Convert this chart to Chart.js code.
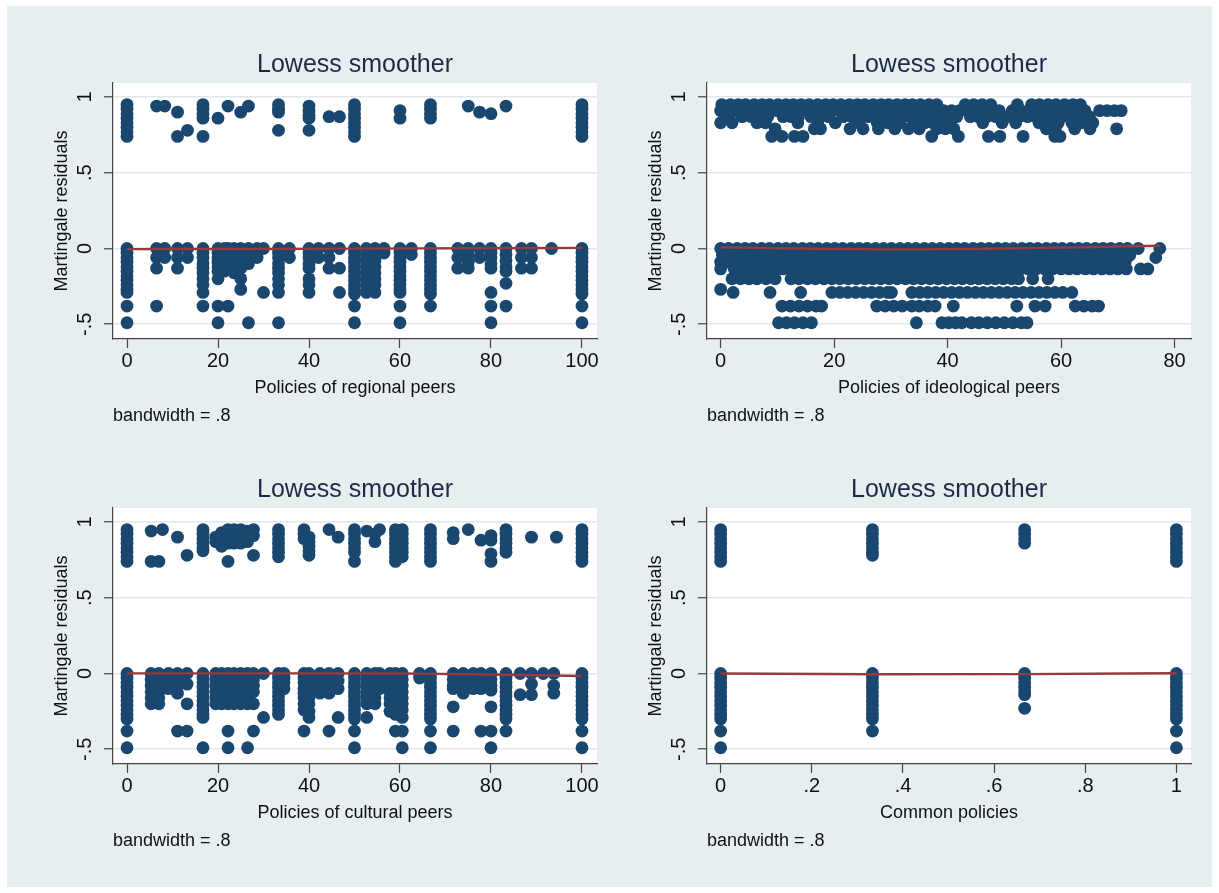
<!DOCTYPE html>
<html>
  <head>
    <title>Lowess smoother</title>
    <script src="https://cdn.jsdelivr.net/npm/chart.js"></script>
    <style>
      body { margin: 0; background: #ffffff; }
      #fundo { position: absolute; left: 7px; top: 6px; width: 1205px; height: 881px; background: #e7eef0; }
      canvas { position: absolute; }
    </style>
  </head>

  <body>
    <div id="fundo"></div>
    <canvas id="c1" width="596" height="436" style="left: 13px; top: 3px"></canvas>
    <canvas id="c2" width="596" height="436" style="left: 607px; top: 3px"></canvas>
    <canvas id="c3" width="596" height="436" style="left: 13px; top: 428px"></canvas>
    <canvas id="c4" width="596" height="436" style="left: 607px; top: 428px"></canvas>
  </body>
</html>

<script>
  // eixos
  const yTicks = [-0.5, 0, 0.5, 1];
  const yTickLabels = ["-.5", "0", ".5", "1"];
  const pctTicks = [0, 20, 40, 60, 80, 100];
  const pctTickLabels = ["0", "20", "40", "60", "80", "100"];
  const ideoTicks = [0, 20, 40, 60, 80];
  const ideoTickLabels = ["0", "20", "40", "60", "80"];
  const commonTicks = [0, 0.2, 0.4, 0.6, 0.8, 1];
  const commonTickLabels = ["0", ".2", ".4", ".6", ".8", "1"];

  // residuos por coluna: [x, [y...]]
  const regionalCols = [
    [0, [0.95, 0.92, 0.89, 0.86, 0.83, 0.8, 0.77, 0.74, 0, -0.03, -0.06, -0.09, -0.12, -0.15, -0.18, -0.21, -0.24, -0.27, -0.29, -0.38, -0.49]],
    [6.5, [0.94, 0, -0.06, -0.13, -0.38]],
    [8.3, [0.94, 0, -0.06]],
    [11.1, [0.9, 0.74, 0, -0.06, -0.13]],
    [13.3, [0.78, 0, -0.06]],
    [16.7, [0.95, 0.92, 0.89, 0.86, 0.74, 0, -0.03, -0.06, -0.1, -0.13, -0.16, -0.2, -0.24, -0.29, -0.38]],
    [20, [0.86, 0, -0.03, -0.06, -0.09, -0.12, -0.15, -0.2, -0.38, -0.49]],
    [21.4, [0, -0.04, -0.08, -0.12, -0.15]],
    [22.2, [0.94, 0, -0.06, -0.1, -0.13, -0.38]],
    [23.5, [0, -0.03, -0.07, -0.1, -0.13, -0.16]],
    [25, [0.9, 0, -0.05, -0.09, -0.13, -0.2, -0.27]],
    [26.7, [0.94, 0, -0.03, -0.07, -0.1, -0.49]],
    [28.6, [0, -0.06]],
    [30, [0, -0.29]],
    [33.3, [0.95, 0.92, 0.9, 0.78, 0, -0.03, -0.06, -0.1, -0.13, -0.16, -0.2, -0.24, -0.29, -0.49]],
    [35.7, [0, -0.06]],
    [40, [0.94, 0.91, 0.88, 0.86, 0.78, 0, -0.03, -0.06, -0.1, -0.13, -0.2, -0.24, -0.29]],
    [42.1, [0, -0.06]],
    [44.4, [0.87, 0, -0.06, -0.13]],
    [46.7, [0.87, 0, -0.13, -0.29]],
    [50, [0.95, 0.92, 0.89, 0.86, 0.83, 0.8, 0.77, 0.74, 0, -0.03, -0.06, -0.09, -0.12, -0.15, -0.18, -0.21, -0.24, -0.27, -0.3, -0.38, -0.49]],
    [52.6, [0, -0.04, -0.08, -0.12, -0.16, -0.2, -0.24, -0.29]],
    [54.5, [0, -0.04, -0.08, -0.12, -0.16, -0.2, -0.24, -0.29]],
    [56.5, [0, -0.03]],
    [60, [0.91, 0.86, 0, -0.03, -0.06, -0.09, -0.12, -0.15, -0.18, -0.21, -0.24, -0.27, -0.29, -0.38, -0.49]],
    [62.5, [0, -0.04]],
    [66.7, [0.95, 0.92, 0.89, 0.86, 0, -0.03, -0.06, -0.09, -0.12, -0.15, -0.18, -0.21, -0.24, -0.27, -0.3, -0.38]],
    [72.7, [0, -0.06, -0.13]],
    [75, [0.94, 0, -0.04, -0.09, -0.13]],
    [77.5, [0.9, 0, -0.06]],
    [80, [0.89, 0, -0.03, -0.06, -0.1, -0.13, -0.29, -0.38, -0.49]],
    [83.3, [0.94, 0, -0.04, -0.08, -0.12, -0.15, -0.23, -0.38]],
    [86.7, [0, -0.06, -0.13]],
    [88.9, [0, -0.06, -0.13]],
    [93.3, [0]],
    [100, [0.95, 0.92, 0.89, 0.86, 0.83, 0.8, 0.77, 0.74, 0, -0.03, -0.06, -0.09, -0.12, -0.15, -0.18, -0.21, -0.24, -0.27, -0.3, -0.38, -0.49]],
  ];

  const culturalCols = [
    [0, [0.95, 0.92, 0.89, 0.86, 0.83, 0.8, 0.77, 0.74, 0, -0.03, -0.06, -0.09, -0.12, -0.15, -0.18, -0.21, -0.24, -0.27, -0.3, -0.38, -0.49]],
    [5.3, [0.94, 0.74, 0, -0.04, -0.08, -0.12, -0.16, -0.2]],
    [7, [0.74, 0, -0.04, -0.08, -0.12, -0.16, -0.2]],
    [7.8, [0.95]],
    [9.1, [0, -0.05, -0.1]],
    [11.1, [0.9, 0, -0.04, -0.08, -0.13, -0.38]],
    [13.2, [0.78, 0, -0.07, -0.2, -0.38]],
    [16.7, [0.95, 0.92, 0.89, 0.86, 0.83, 0.81, 0, -0.03, -0.06, -0.09, -0.12, -0.15, -0.18, -0.21, -0.24, -0.27, -0.29, -0.49]],
    [19.5, [0.9, 0.87, 0, -0.04, -0.08, -0.12, -0.16, -0.2]],
    [20.8, [0.93, 0.9, 0.87, 0.84, 0, -0.04, -0.08, -0.12, -0.16, -0.2]],
    [22.2, [0.95, 0.92, 0.89, 0.86, 0.74, 0, -0.04, -0.08, -0.12, -0.16, -0.2, -0.38, -0.49]],
    [23.5, [0.95, 0.92, 0.89, 0.86, 0, -0.04, -0.08, -0.12, -0.16, -0.2]],
    [25, [0.95, 0.92, 0.89, 0.86, 0, -0.04, -0.08, -0.12, -0.16, -0.2]],
    [26.5, [0.94, 0.9, 0.87, 0, -0.04, -0.08, -0.12, -0.16, -0.2, -0.49]],
    [27.8, [0.95, 0.91, 0.78, 0, -0.04, -0.08, -0.12, -0.2, -0.38]],
    [30, [0, -0.29]],
    [33.3, [0.95, 0.92, 0.89, 0.86, 0.83, 0.8, 0.77, 0, -0.03, -0.06, -0.09, -0.12, -0.15, -0.18, -0.21, -0.24, -0.27]],
    [34.5, [0, -0.03, -0.06, -0.1]],
    [38.9, [0.95, 0.92, 0.89, 0, -0.03, -0.06, -0.1, -0.13, -0.16, -0.2, -0.24, -0.38]],
    [40, [0.9, 0.87, 0.84, 0.81, 0.78, 0, -0.04, -0.08, -0.12, -0.16, -0.2, -0.25, -0.29]],
    [42.4, [0, -0.04, -0.08, -0.13]],
    [44.4, [0.95, 0, -0.04, -0.08, -0.13, -0.38]],
    [46.4, [0.9, 0, -0.05, -0.1, -0.29]],
    [50, [0.95, 0.92, 0.89, 0.86, 0.83, 0.8, 0.74, 0, -0.03, -0.06, -0.09, -0.12, -0.15, -0.18, -0.21, -0.24, -0.27, -0.3, -0.38, -0.49]],
    [52.7, [0.94, 0, -0.04, -0.08, -0.12, -0.16, -0.2, -0.29]],
    [54.5, [0.92, 0.87, 0, -0.04, -0.08, -0.12, -0.16, -0.2]],
    [55.5, [0.95, 0, -0.05, -0.1]],
    [57.8, [0, -0.04, -0.08, -0.12, -0.16, -0.2, -0.25]],
    [59, [0.95, 0.92, 0.89, 0.86, 0.83, 0.8, 0.77, 0.74, 0, -0.03, -0.06, -0.09, -0.12, -0.15, -0.18, -0.21, -0.24, -0.27, -0.38]],
    [60.5, [0.95, 0.92, 0.89, 0.86, 0.83, 0.8, 0.77, 0, -0.04, -0.08, -0.12, -0.16, -0.2, -0.24, -0.29, -0.38, -0.49]],
    [64.3, [0, -0.03]],
    [66.7, [0.95, 0.92, 0.89, 0.86, 0.83, 0.8, 0.77, 0.74, 0, -0.03, -0.06, -0.09, -0.12, -0.15, -0.18, -0.21, -0.24, -0.27, -0.3, -0.38, -0.49]],
    [71.7, [0.93, 0.89, 0, -0.04, -0.08, -0.1, -0.22, -0.38]],
    [73.9, [0, -0.04, -0.08, -0.13]],
    [75, [0.95]],
    [76.1, [0, -0.04, -0.08, -0.1]],
    [77.8, [0.88, 0, -0.05, -0.1, -0.38]],
    [80, [0.91, 0.88, 0.79, 0.74, 0, -0.04, -0.08, -0.11, -0.22, -0.38, -0.49]],
    [83.3, [0.95, 0.92, 0.89, 0.86, 0.83, 0.8, 0, -0.03, -0.06, -0.09, -0.12, -0.15, -0.18, -0.21, -0.24, -0.27, -0.3, -0.38]],
    [86.4, [0, -0.14]],
    [88.9, [0.9, 0, -0.07, -0.14]],
    [91.5, [0]],
    [93.8, [0, -0.08, -0.13]],
    [94.4, [0.9]],
    [100, [0.95, 0.92, 0.89, 0.86, 0.83, 0.8, 0.77, 0.74, 0, -0.03, -0.06, -0.09, -0.12, -0.15, -0.18, -0.21, -0.24, -0.27, -0.3, -0.38, -0.49]],
  ];

  const commonCols = [
    [0, [0.95, 0.92, 0.89, 0.86, 0.83, 0.8, 0.77, 0.74, 0, -0.03, -0.06, -0.09, -0.12, -0.15, -0.18, -0.21, -0.24, -0.27, -0.3, -0.38, -0.49]],
    [0.333, [0.95, 0.92, 0.89, 0.86, 0.83, 0.8, 0.78, 0, -0.03, -0.06, -0.09, -0.12, -0.15, -0.18, -0.21, -0.24, -0.27, -0.3, -0.38]],
    [0.667, [0.95, 0.92, 0.89, 0.86, 0, -0.03, -0.06, -0.09, -0.12, -0.14, -0.23]],
    [1, [0.95, 0.92, 0.89, 0.86, 0.83, 0.8, 0.77, 0.74, 0, -0.03, -0.06, -0.09, -0.12, -0.15, -0.18, -0.21, -0.24, -0.27, -0.3, -0.38, -0.49]],
  ];

  // pares ideologicos: nuvem densa, lida por linha: [y, [x...]]
  const ideologicalRows = [
    [0.95, [0.2, 1.7, 3.1, 4.4, 5.9, 7.3, 8.6, 10.1, 11.5, 12.8, 14.2, 15.6, 17.1, 18.5, 19.8, 21.2, 22.7, 24.1, 25.4, 26.9, 28.3, 29.6, 31.1, 32.5, 33.8, 35.2, 36.7, 38.1, 43.1, 44.6, 46.1, 47.6, 52.3, 54.8, 56.2, 57.7, 59.1, 60.6, 62.1, 63.4]],
    [0.91, [0, 1.4, 2.9, 4.2, 5.7, 7.1, 8.4, 9.9, 11.3, 12.7, 14.1, 15.5, 16.9, 18.3, 19.6, 21.1, 22.5, 23.9, 25.3, 26.6, 28.1, 29.5, 30.9, 32.2, 33.7, 35.1, 36.4, 37.8, 39.3, 40.7, 42.1, 43.4, 44.9, 46.3, 47.6, 49.1, 51.4, 52.9, 54.4, 55.8, 57.2, 58.5, 60, 61.4, 62.9, 64.2, 66.8, 68.1, 69.4, 70.6]],
    [0.87, [1.5, 3.8, 5.4, 6.9, 8.3, 11, 12.4, 13.7, 15.9, 17.4, 19, 21.6, 23.1, 24.5, 26, 27.5, 28.9, 30.4, 31.8, 33.4, 34.9, 36.2, 37.5, 38.8, 40.2, 41.6, 44, 45.4, 46.9, 48.5, 50.6, 52.6, 54.1, 55.6, 57.1, 58.5, 60.1, 61.6, 63.1, 65]],
    [0.83, [0, 2, 6.4, 7.9, 13.6, 17.1, 20.2, 24.4, 27.6, 29.4, 31.6, 34.1, 36, 37.4, 38.9, 40.5, 46.2, 49.6, 52, 56.1, 57.6, 59.5, 61.9, 63.6, 65.6]],
    [0.79, [9.6, 16.5, 17.6, 22.8, 25.1, 27.8, 30.7, 33.1, 35, 38.1, 39.6, 41.1, 57.4, 59, 62.4, 65.1, 69.8]],
    [0.74, [9, 10.8, 13, 14.5, 37.2, 41.9, 47.2, 49.2, 53.3, 58.9, 59.8]],
    [0, [0, 1.4, 2.9, 4.3, 5.7, 7.2, 8.6, 10.1, 11.5, 12.9, 14.4, 15.8, 17.2, 18.7, 20.1, 21.5, 23, 24.4, 25.8, 27.3, 28.7, 30.1, 31.6, 33, 34.4, 35.9, 37.3, 38.7, 40.2, 41.6, 43, 44.5, 45.9, 47.3, 48.8, 50.2, 51.6, 53.1, 54.5, 55.9, 57.4, 58.8, 60.2, 61.7, 63.1, 64.5, 66, 67.4, 68.8, 70.3, 71.7, 73.6, 77.4]],
    [-0.045, [0.3, 1.8, 3.2, 4.7, 6.1, 7.5, 9, 10.4, 11.8, 13.3, 14.7, 16.1, 17.6, 19, 20.4, 21.9, 23.3, 24.7, 26.2, 27.6, 29, 30.5, 31.9, 33.3, 34.8, 36.2, 37.6, 39.1, 40.5, 41.9, 43.4, 44.8, 46.2, 47.7, 49.1, 50.5, 52, 53.4, 54.8, 56.3, 57.7, 59.1, 60.6, 62, 63.4, 64.9, 66.3, 67.7, 69.2, 70.6, 72.1]],
    [-0.06, [76.7]],
    [-0.09, [0, 1.1, 2.5, 3.9, 5.4, 6.8, 8.2, 9.7, 11.1, 12.5, 14, 15.4, 16.8, 18.3, 19.7, 21.1, 22.6, 24, 25.4, 26.9, 28.3, 29.7, 31.2, 32.6, 34, 35.5, 36.9, 38.3, 39.8, 41.2, 42.6, 44.1, 45.5, 46.9, 48.4, 49.8, 51.2, 52.7, 54.1, 55.5, 57, 58.4, 59.8, 61.3, 62.7, 64.1, 65.6, 67, 68.4, 69.9, 71.3]],
    [-0.135, [0, 2.4, 3.8, 5.2, 6.7, 8.1, 9.6, 11, 12.4, 13.9, 15.3, 16.8, 18.2, 19.6, 21.1, 22.5, 24, 25.4, 26.8, 28.3, 29.7, 31.2, 32.6, 34, 35.5, 36.9, 38.4, 39.8, 41.2, 42.7, 44.1, 45.6, 47, 48.4, 49.9, 51.3, 52.8, 54.2, 55.6, 57.1, 58.5, 60, 61.4, 62.8, 64.3, 65.7, 67.2, 68.6, 70, 71.5, 74, 75.3]],
    [-0.2, [2, 3.5, 5, 6.4, 8, 9.6, 12.4, 13.8, 15.3, 16.7, 18.2, 19.6, 21, 22.5, 23.9, 25.4, 26.8, 28.2, 29.7, 31.1, 32.6, 34, 35.4, 36.9, 38.3, 39.8, 41.2, 42.6, 44.1, 45.5, 47, 48.4, 49.8, 51.3, 52.5, 55, 57.7]],
    [-0.27, [0]],
    [-0.29, [2.2, 8.7, 14.1, 19.6, 21, 22.4, 23.8, 25.2, 26.6, 28, 29.4, 30.1, 33.7, 35.1, 36.5, 37.9, 39.3, 40.7, 42.1, 43.5, 44.9, 46.3, 47.7, 49.1, 50.5, 51.9, 53.3, 54.7, 56.1, 57.5, 58.9, 60.3, 61.9]],
    [-0.38, [10.8, 12.3, 13.8, 15.3, 16.8, 17.8, 27.5, 29, 30.5, 32, 33.7, 35, 36.5, 37.8, 41, 52.2, 55.4, 57.2, 62.5, 64, 65.5, 66.6]],
    [-0.49, [10.2, 11.6, 13, 14.5, 16, 34.5, 39, 40.2, 41.4, 42.5, 44.2, 45.5, 47, 48.5, 50, 51.5, 53, 54]],
  ];

  // curvas lowess (bandwidth .8)
  const regionalLowess = [[0, -0.004], [25, -0.003], [50, -0.001], [75, 0.002], [100, 0.004]];
  const ideologicalLowess = [[0, 0.008], [10, 0.002], [20, -0.003], [30, -0.006], [40, -0.004], [50, 0], [60, 0.006], [70, 0.013], [77.4, 0.018]];
  const culturalLowess = [[0, 0.001], [40, 0.001], [60, 0], [70, -0.003], [80, -0.007], [90, -0.012], [100, -0.017]];
  const commonLowess = [[0, 0], [0.333, -0.005], [0.667, -0.004], [1, 0.002]];

  const NAVY = "#1a476f";
  const MARROM = "#963a40";
  const EIXO = "#444444";
  const GRADE = "#e0e8eb";
  const TEXTO = "#111111";

  Chart.defaults.font.family = "'Liberation Sans', Arial, Helvetica, sans-serif";

  function porColuna(cols) {
    let pts = [];
    cols.forEach(([x, ys]) => ys.forEach((y) => pts.push({ x: x, y: y })));
    return pts;
  }

  function porLinha(rows) {
    let pts = [];
    rows.forEach(([y, xs]) => xs.forEach((x) => pts.push({ x: x, y: y })));
    return pts;
  }

  // fundo branco da area do grafico
  const areaBranca = {
    id: "areaBranca",
    beforeDraw(chart) {
      const a = chart.chartArea;
      const ctx = chart.ctx;
      ctx.save();
      ctx.fillStyle = "#ffffff";
      ctx.fillRect(a.left, a.top, a.right - a.left, a.bottom - a.top);
      ctx.restore();
    },
  };

  function montarPainel(id, pontos, lowess, xMin, xMax, xTicks, xLabels, xTitulo) {
    return new Chart(document.getElementById(id), {
      type: "scatter",
      data: {
        datasets: [
          {
            data: lowess.map(([x, y]) => ({ x: x, y: y })),
            showLine: true,
            borderColor: MARROM,
            borderWidth: 2.4,
            pointRadius: 0,
            tension: 0.3,
            cubicInterpolationMode: "monotone",
          },
          {
            data: pontos,
            pointRadius: 6.4,
            pointBackgroundColor: NAVY,
            pointBorderWidth: 0,
            borderWidth: 0,
          },
        ],
      },
      options: {
        responsive: false,
        animation: false,
        layout: { padding: { left: 0, right: 12, top: 0, bottom: 0 } },
        plugins: {
          legend: { display: false },
          tooltip: { enabled: false },
          title: {
            display: true,
            text: "Lowess smoother",
            fullSize: false,
            color: "#1e2a46",
            font: { size: 25, weight: "normal" },
            padding: { top: 47, bottom: 3 },
          },
          subtitle: {
            display: true,
            text: "bandwidth = .8",
            position: "bottom",
            align: "start",
            fullSize: false,
            color: TEXTO,
            font: { size: 18 },
            padding: { top: 5.9, bottom: 12.5 },
          },
        },
        scales: {
          x: {
            type: "linear",
            min: xMin,
            max: xMax,
            bounds: "data",
            afterBuildTicks: (s) => { s.ticks = xTicks.map((v) => ({ value: v })); },
            afterFit: (s) => { s.height = 60; },
            ticks: {
              callback: (v, i) => xLabels[i],
              autoSkip: false,
              maxRotation: 0,
              color: TEXTO,
              font: { size: 20 },
              padding: 1.4,
            },
            grid: { drawOnChartArea: false, tickLength: 9, tickColor: EIXO, tickWidth: 1.2 },
            border: { color: EIXO, width: 1.2 },
            title: { display: true, text: xTitulo, color: TEXTO, font: { size: 18 }, padding: { top: 0, bottom: 0.5 } },
          },
          y: {
            type: "linear",
            min: -0.5974,
            max: 1.0924,
            bounds: "data",
            afterBuildTicks: (s) => { s.ticks = yTicks.map((v) => ({ value: v })); },
            afterFit: (s) => { s.width = 100; },
            ticks: {
              callback: (v, i) => yTickLabels[i],
              autoSkip: false,
              minRotation: 90,
              maxRotation: 90,
              crossAlign: "center",
              color: TEXTO,
              font: { size: 20 },
              padding: 7,
            },
            grid: { color: GRADE, lineWidth: 1.5, tickLength: 9, tickColor: EIXO, tickWidth: 1.2 },
            border: { color: EIXO, width: 1.2 },
            title: { display: true, text: "Martingale residuals", color: TEXTO, font: { size: 18 }, padding: { top: 38.2, bottom: 0 } },
          },
        },
      },
      plugins: [areaBranca],
    });
  }

  montarPainel("c1", porColuna(regionalCols), regionalLowess, -3.08, 103.3, pctTicks, pctTickLabels, "Policies of regional peers");
  montarPainel("c2", porLinha(ideologicalRows), ideologicalLowess, -2.41, 82.9, ideoTicks, ideoTickLabels, "Policies of ideological peers");
  montarPainel("c3", porColuna(culturalCols), culturalLowess, -3.08, 103.3, pctTicks, pctTickLabels, "Policies of cultural peers");
  montarPainel("c4", porColuna(commonCols), commonLowess, -0.03, 1.032, commonTicks, commonTickLabels, "Common policies");
</script>
